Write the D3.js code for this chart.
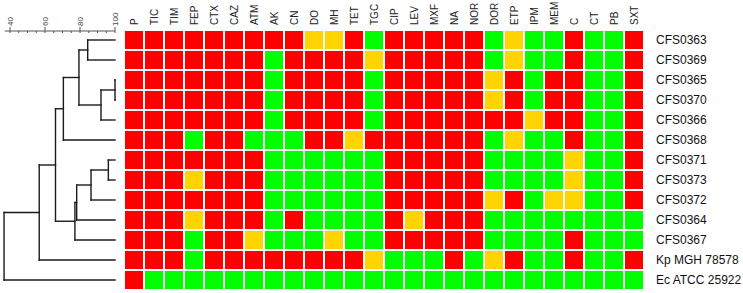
<!DOCTYPE html>
<html>
<head>
<meta charset="utf-8">
<script src="https://cdn.jsdelivr.net/npm/d3@7"></script>
<style>
  body { margin: 0; background: #fff; }
  svg { display: block; font-family: Arial, "Liberation Sans", sans-serif; }
</style>
</head>
<body>
<svg id="chart" width="743" height="293"></svg>
<script>
// antibiotics (columns)
const drugs = ['P', 'TIC', 'TIM', 'FEP', 'CTX', 'CAZ', 'ATM', 'AK', 'CN', 'DO', 'MH', 'TET', 'TGC',
    'CIP', 'LEV', 'MXF', 'NA', 'NOR', 'DOR', 'ETP', 'IPM', 'MEM', 'C', 'CT', 'PB', 'SXT'];

// isolates (rows, in dendrogram order)
const isolates = ['CFS0363', 'CFS0369', 'CFS0365', 'CFS0370', 'CFS0366', 'CFS0368', 'CFS0371',
    'CFS0373', 'CFS0372', 'CFS0364', 'CFS0367', 'Kp MGH 78578', 'Ec ATCC 25922'];

// R = resistant, I = intermediate, S = susceptible
const profiles = [
    'RRRRRRRRRIIRSRRRRRSISSRSSR',
    'RRRRRRRSRRRRIRRRRRSISSRSSR',
    'RRRRRRRSRRRRSRRRRRIRSRRSSR',
    'RRRRRRRSRRRRSRRRRRIRSRRSSR',
    'RRRRRRRSRRRRSRRRRRRRIRRSSR',
    'RRRSRRSSSRRIRRRRRRSISSRSSR',
    'RRRRRRRSSSSSSRRRRRSSSSISSR',
    'RRRIRRRSSSSSSRRRRRSSSSISSR',
    'RRRRRRRSSSSSSRRRRRIRSIISSR',
    'RRRIRRRSRSSSSRIRRRSSSSSSSS',
    'RRRSRRISSSISSRRRRRSSSSRSSS',
    'RRRSRRRRRRRRISSSRSIRSSRSSR',
    'RSSSSSSSSSSSSSSSSSSSSSSSSS'
];

// UPGMA merges: [node, child a, child b, similarity %]
const merges = [
    ['n1', 'CFS0363', 'CFS0369', 84.4],
    ['n2', 'CFS0365', 'CFS0370', 100],
    ['n3', 'n2', 'CFS0366', 92],
    ['n4', 'n1', 'n3', 79.4],
    ['n5', 'n4', 'CFS0368', 70.5],
    ['n6', 'CFS0371', 'CFS0373', 96.2],
    ['n7', 'n6', 'CFS0372', 86.3],
    ['n8', 'n7', 'CFS0364', 78.1],
    ['n9', 'n8', 'CFS0367', 77.1],
    ['n10', 'n5', 'n9', 66],
    ['n11', 'n10', 'Kp MGH 78578', 56.7],
    ['n12', 'n11', 'Ec ATCC 25922', 36.6]
];

const majorTicks = [40, 60, 80, 100];
const minorTicks = [45, 50, 55, 65, 70, 75, 85, 90, 95];

const colors = { R: '#ff0000', I: '#ffd400', S: '#00ff00' };

const svg = d3.select('#chart');

const xScale = d3.scaleBand().domain(drugs).range([124, 644]).paddingInner(0.1).paddingOuter(0.05);
const yScale = d3.scaleBand().domain(isolates).range([30, 290]).paddingInner(0.1).paddingOuter(0.05);
const simScale = d3.scaleLinear().domain([40, 100]).range([10, 115]);

// heat map cells
const cells = [];
profiles.forEach((row, i) => {
    row.split('').forEach((v, j) => cells.push({ iso: isolates[i], drug: drugs[j], v }));
});
svg.append('g').attr('class', 'cells')
    .selectAll('rect')
    .data(cells)
    .enter()
    .append('rect')
    .attr('x', d => xScale(d.drug))
    .attr('y', d => yScale(d.iso))
    .attr('width', xScale.bandwidth())
    .attr('height', yScale.bandwidth())
    .attr('fill', d => colors[d.v]);

// column headers
svg.append('g').attr('class', 'col-labels')
    .selectAll('text')
    .data(drugs)
    .enter()
    .append('text')
    .attr('transform', d => `translate(${xScale(d) + xScale.bandwidth() / 2},25) rotate(-90)`)
    .attr('dy', '0.35em')
    .attr('font-size', 10)
    .attr('fill', '#222')
    .text(d => d);

// row labels
svg.append('g').attr('class', 'row-labels')
    .selectAll('text')
    .data(isolates)
    .enter()
    .append('text')
    .attr('x', 656)
    .attr('y', d => yScale(d) + yScale.bandwidth() / 2)
    .attr('dy', '0.35em')
    .attr('font-size', 12)
    .attr('fill', '#111')
    .text(d => d);

// similarity scale
const axisY = 31;
const axisG = svg.append('g').attr('class', 'sim-axis');
axisG.append('line')
    .attr('x1', simScale(37)).attr('x2', simScale(100))
    .attr('y1', axisY).attr('y2', axisY)
    .attr('stroke', '#555').attr('stroke-width', 1);
axisG.selectAll('.minor')
    .data(minorTicks)
    .enter()
    .append('line')
    .attr('class', 'minor')
    .attr('x1', d => simScale(d)).attr('x2', d => simScale(d))
    .attr('y1', axisY).attr('y2', axisY + 2)
    .attr('stroke', '#555');
axisG.selectAll('.major')
    .data(majorTicks)
    .enter()
    .append('line')
    .attr('class', 'major')
    .attr('x1', d => simScale(d)).attr('x2', d => simScale(d))
    .attr('y1', axisY - 4).attr('y2', axisY + 2)
    .attr('stroke', '#555');
axisG.selectAll('text')
    .data(majorTicks)
    .enter()
    .append('text')
    .attr('transform', d => `translate(${simScale(d)},${axisY - 5}) rotate(-90)`)
    .attr('dy', '0.35em')
    .attr('font-size', 8)
    .attr('fill', '#444')
    .text(d => d);

// dendrogram
const pos = {};
isolates.forEach(d => { pos[d] = { x: simScale(100), y: yScale(d) + yScale.bandwidth() / 2 }; });
const segs = [];
merges.forEach(([id, a, b, s]) => {
    const x = simScale(s);
    const pa = pos[a], pb = pos[b];
    segs.push([pa.x, pa.y, x, pa.y]);
    segs.push([pb.x, pb.y, x, pb.y]);
    segs.push([x, pa.y, x, pb.y]);
    pos[id] = { x, y: (pa.y + pb.y) / 2 };
});
const root = pos[merges[merges.length - 1][0]];
svg.append('g').attr('class', 'dendro')
    .selectAll('line')
    .data(segs)
    .enter()
    .append('line')
    .attr('x1', d => d[0]).attr('y1', d => d[1])
    .attr('x2', d => d[2]).attr('y2', d => d[3])
    .attr('stroke', '#1a1a1a')
    .attr('stroke-width', 1.4)
    .attr('stroke-linecap', 'square');
</script>
</body>
</html>
